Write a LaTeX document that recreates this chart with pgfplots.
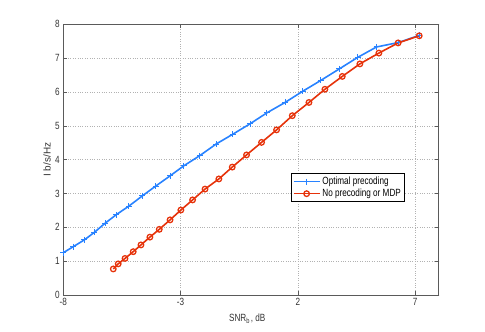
\documentclass[border=0pt]{standalone}
\usepackage{fontspec}
\setmainfont{Liberation Sans}[FakeStretch=0.78]
\newfontfamily\ylfont{Liberation Sans}
\usepackage{pgfplots}
\pgfplotsset{compat=1.18}
\definecolor{optblue}{RGB}{40,130,255}
\definecolor{nored}{RGB}{230,50,10}
\definecolor{axgray}{RGB}{90,90,90}

\begin{document}
\begin{tikzpicture}
\path[use as bounding box] (0,0) rectangle (485bp,332bp);
\begin{axis}[
  at={(63.3bp,37bp)}, anchor=south west,
  scale only axis,
  width=375.4bp, height=270.7bp,
  xmin=-8, xmax=8, ymin=0, ymax=8,
  xtick={-8,-3,2,7},
  ytick={0,1,...,8},
  grid=major,
  major grid style={dotted, gray!60, line width=0.6pt},
  axis line style={axgray, line width=0.8pt},
  tick style={axgray, line width=0.6pt},
  major tick length=4bp,
  /pgf/number format/assume math mode=true,
  ticklabel style={font=\fontsize{10.5}{12}\selectfont, text=black!80},
  xlabel={SNR$_\mathrm{b}$, dB},
  ylabel={\ylfont I b/s/Hz},
  xlabel style={font=\fontsize{10.5}{12}\selectfont, text=black!80, at={(axis description cs:0.49,-0.098)}, anchor=base},
  ylabel style={font=\fontsize{10}{12}\selectfont, text=black!80, at={(axis description cs:-0.043,0.5)}, anchor=center},
  legend style={at={(axis description cs:0.6066,0.4496)}, anchor=north west,
    draw=black, line width=0.6pt, font=\fontsize{10.5}{12}\selectfont,
    inner sep=1.5bp, row sep=-1bp, cells={anchor=west}},
  legend image code/.code={
    \draw[mark repeat=2, mark phase=2] plot coordinates {(0bp,0bp) (13bp,0bp) (26bp,0bp)};
  },
]
\addplot[optblue, line width=1.6pt, mark=+, mark size=3pt, mark options={line width=1pt}]
  coordinates {
    (-8,1.25) (-7.57,1.43) (-7.1,1.63) (-6.68,1.85) (-6.22,2.12) (-5.75,2.37)
    (-5.2,2.63) (-4.63,2.93) (-4.06,3.22) (-3.45,3.52) (-2.86,3.82) (-2.18,4.12)
    (-1.49,4.46) (-0.78,4.75) (-0.04,5.06) (0.67,5.38) (1.45,5.69) (2.2,6.02)
    (2.97,6.34) (3.76,6.68) (4.54,7.02) (5.35,7.33) (6.27,7.46) (7.17,7.67)
};
\addlegendentry{Optimal precoding}
\addplot[nored, line width=1.6pt, mark=o, mark size=2.8pt, mark options={line width=1.3pt}]
  coordinates {
    (-5.87,0.77) (-5.66,0.92) (-5.37,1.08) (-5.02,1.28) (-4.69,1.48) (-4.31,1.71)
    (-3.91,1.94) (-3.45,2.22) (-2.99,2.51) (-2.49,2.81) (-1.96,3.13) (-1.37,3.43)
    (-0.8,3.78) (-0.19,4.14) (0.45,4.51) (1.09,4.88) (1.76,5.30) (2.47,5.69)
    (3.15,6.08) (3.89,6.46) (4.64,6.83) (5.45,7.15) (6.27,7.45) (7.17,7.66)
};
\addlegendentry{No precoding or MDP}
\end{axis}
\end{tikzpicture}
\end{document}
